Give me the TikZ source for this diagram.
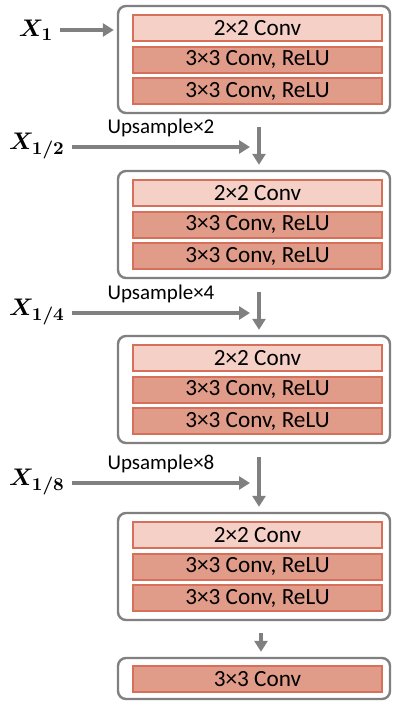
\documentclass[tikz,border=0pt]{standalone}
\usepackage{amsmath}
\usepackage{fontspec}
\newfontfamily\carlito{Carlito}
\usetikzlibrary{arrows.meta, positioning}
\definecolor{barline}{HTML}{D6705A}
\definecolor{convlt}{HTML}{F4D0C6}
\definecolor{convdk}{HTML}{E09B89}
\definecolor{boxline}{HTML}{808080}

\begin{document}
\begin{tikzpicture}[x=0.5pt, y=-0.5pt,
    >={Triangle[length=5.5pt, width=6.5pt]},
    outerbox/.style={draw=boxline, line width=1.2pt, rounded corners=4pt,
      fill=white, minimum width=136pt, minimum height=53.5pt, inner sep=0pt},
    barlt/.style={draw=barline, fill=convlt, line width=1pt,
      minimum width=124.5pt, minimum height=13pt, inner sep=0pt,
      font=\carlito\fontsize{11.6}{13}\selectfont},
    bardk/.style={barlt, fill=convdk},
    flow/.style={->, boxline, line width=1.7pt},
    inlabel/.style={font=\fontsize{13}{15}\selectfont\boldmath},
    uplabel/.style={text=black, font=\carlito\fontsize{10.5}{12}\selectfont}]
  \useasboundingbox (0,0) rectangle (393,702);
  % decoder blocks
  \foreach \i/\t in {1/5, 2/170, 3/335, 4/512}{
    \node[outerbox] (blk\i) at (254,\t+54.5) {};
    \node[barlt] (cv\i-1) at (257.5,\t+23) {2×2 Conv};
    \node[bardk] (cv\i-2) at (257.5,\t+54.5) {3×3 Conv, ReLU};
    \node[bardk] (cv\i-3) at (257.5,\t+86) {3×3 Conv, ReLU};
  }
  \node[outerbox, minimum height=20.5pt] (blk5) at (254,678.5) {};
  \node[bardk] (cv5) at (257.5,679) {3×3 Conv};
  % inputs
  \node[inlabel] (x1) at (36,30) {$X_1$};
  \draw[flow, shorten >=1.5pt] (x1.east) -- (x1.east -| blk1.west);
  \foreach \i/\p/\s/\y in {2/1/2/147, 3/2/4/313, 4/3/8/483}{
    \node[inlabel] (x\i) at (37,\y-1) {$X_{1/\s}$};
    \coordinate (h\i) at (250,\y);
    \coordinate (ax\i) at (259,\y);
    \draw[flow] (x\i.east |- h\i) -- (h\i)
      node[midway, above=1pt, uplabel] {Upsample×\s};
    \draw[flow, shorten <=6.5pt, shorten >=2.5pt]
      (blk\p.south -| ax\i) -- (blk\i.north -| ax\i);
  }
  \coordinate (ax5) at (261,640);
  \draw[flow, shorten <=6pt, shorten >=2.5pt]
    (blk4.south -| ax5) -- (blk5.north -| ax5);
\end{tikzpicture}
\end{document}
